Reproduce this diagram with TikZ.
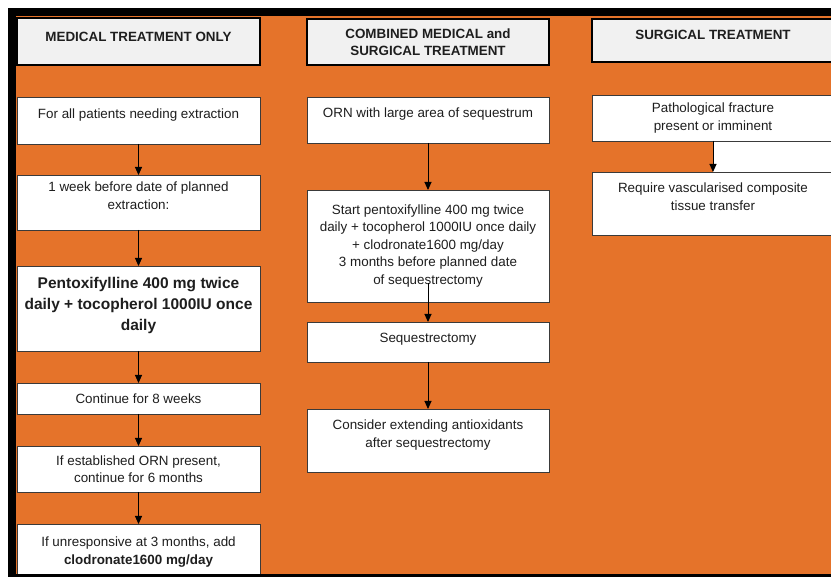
\documentclass[tikz,border=0pt]{standalone}
\usepackage{fontspec}
\setmainfont{Liberation Sans}
\usetikzlibrary{positioning,arrows.meta}
\definecolor{ornorange}{HTML}{E5732A}
\definecolor{headgrey}{HTML}{F1F1F1}
\definecolor{boxline}{HTML}{3A3A3A}
\definecolor{inktext}{HTML}{1E1E1E}
\begin{document}
\begin{tikzpicture}[x=1pt,y=-1pt,
        header/.style={
            rectangle, draw = black, line width = 1.6pt, fill = headgrey, text = inktext,
            minimum width = 243pt, inner sep = 2pt, outer sep = 0pt, align = center, anchor = north,
            font = \fontsize{13.4}{17.5}\selectfont\bfseries
        },
        stage/.style={
            rectangle, draw = boxline, line width = 0.9pt, fill = white, text = inktext,
            minimum width = 243pt, inner sep = 2pt, outer sep = 0pt, align = center,
            font = \fontsize{13.4}{17.5}\selectfont
        },
        lifted/.style={text depth = 14pt},
        flow/.style={-{Triangle[length=8pt,width=7pt]}, line width = 0.9pt, black},
    ]
        \useasboundingbox (0,0) rectangle (831,577);
        \clip (0,0) rectangle (831,577);
        \fill[white] (0,0) rectangle (831,577);
        \fill[black] (8,8) rectangle (831,577);
        \fill[ornorange] (16,16) rectangle (831,574);
        \fill[white] (713,141) rectangle (831,172);

        % medical treatment only
        \node (medHead) [header, minimum height = 47pt, text depth = 10pt] at (138.5,18) {MEDICAL TREATMENT ONLY};
        \node (forAll) [stage, lifted, minimum height = 47pt, below = 32pt of medHead] {For all patients needing extraction};
        \node (oneWeek) [stage, lifted, minimum height = 55pt, below = 31pt of forAll] {1 week before date of planned\\extraction:};
        \node (pentox) [stage, minimum height = 85pt, text depth = 10pt, below = 36pt of oneWeek, font = \fontsize{15.5}{21}\selectfont\bfseries] {Pentoxifylline 400 mg twice\\daily + tocopherol 1000IU once\\daily};
        \node (contEight) [stage, minimum height = 31pt, below = 32pt of pentox] {Continue for 8 weeks};
        \node (ifEstab) [stage, minimum height = 46pt, below = 32pt of contEight] {If established ORN present,\\continue for 6 months};
        \node (ifUnresp) [stage, minimum height = 56pt, below = 32pt of ifEstab] {If unresponsive at 3 months, add\\\textbf{clodronate1600 mg/day}};
        \path (forAll) edge[flow] (oneWeek);
        \path (oneWeek) edge[flow] (pentox);
        \path (pentox) edge[flow] (contEight);
        \path (contEight) edge[flow] (ifEstab);
        \path (ifEstab) edge[flow] (ifUnresp);

        % combined medical and surgical
        \node (combHead) [header, minimum width = 242pt, minimum height = 46pt] at (428,19) {COMBINED MEDICAL and\\SURGICAL TREATMENT};
        \node (ornLarge) [stage, lifted, minimum width = 242pt, minimum height = 46pt, below = 32pt of combHead] {ORN with large area of sequestrum};
        \node (startPent) [stage, minimum width = 242pt, minimum height = 112pt, below = 47pt of ornLarge] {Start pentoxifylline 400 mg twice\\daily + tocopherol 1000IU once daily\\+ clodronate1600 mg/day\\3 months before planned date\\of sequestrectomy};
        \node (sequest) [stage, minimum width = 242pt, minimum height = 40pt, text depth = 8pt, below = 20pt of startPent] {Sequestrectomy};
        \node (consider) [stage, lifted, minimum width = 242pt, minimum height = 63pt, below = 47pt of sequest] {Consider extending antioxidants\\after sequestrectomy};
        \path (ornLarge) edge[flow] (startPent);
        \path (startPent.south) edge[flow, shorten <= -19pt] (sequest.north);
        \path (sequest) edge[flow] (consider);

        % surgical treatment
        \node (surgHead) [header, minimum width = 242pt, minimum height = 43pt, text depth = 12pt] at (713,19) {SURGICAL TREATMENT};
        \node (pathFrac) [stage, minimum width = 242pt, minimum height = 46pt, below = 33pt of surgHead] {Pathological fracture\\present or imminent};
        \node (reqVasc) [stage, lifted, minimum width = 242pt, minimum height = 63pt, below = 31pt of pathFrac] {Require vascularised composite\\tissue transfer};
        \path (pathFrac) edge[flow] (reqVasc);

        \fill[black] (8,574) rectangle (831,577);
    \end{tikzpicture}
\end{document}
